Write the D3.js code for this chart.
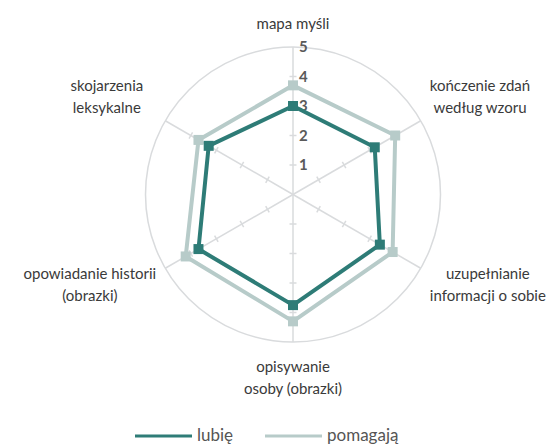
<!DOCTYPE html>
<html>
<head>
<meta charset="utf-8">
<script src="https://cdn.jsdelivr.net/npm/d3@7"></script>
<style>
  body { margin: 0; background: #fff; }
  svg { font-family: Lato, "Open Sans", sans-serif; }
</style>
</head>
<body>
<script>
// chart data
var categories = ["mapa myśli", "kończenie zdań\nwedług wzoru", "uzupełnianie\ninformacji o sobie",
                  "opisywanie\nosoby (obrazki)", "opowiadanie historii\n(obrazki)", "skojarzenia\nleksykalne"];
var lubie = [3.0, 3.2, 3.4, 3.75, 3.7, 3.3];
var pomagaja = [3.7, 4.0, 3.9, 4.3, 4.2, 3.7];
var seriesNames = ["lubię", "pomagają"];
var tickValues = [1, 2, 3, 4, 5];

var width = 550, height = 444;
var cx = 293, cy = 194.5, R = 147.5;
var colors = ["#2e7c77", "#b7cbc9"];
var gridColor = "#d9dbdd";

var svg = d3.select("body").append("svg")
    .attr("width", width).attr("height", height);

var r = d3.scaleLinear().domain([0, 5]).range([0, R]);
var angle = d3.scaleLinear().domain([0, categories.length]).range([0, 2 * Math.PI]);

function pt(i, v) {
  var a = angle(i);
  return [cx + r(v) * Math.sin(a), cy - r(v) * Math.cos(a)];
}

var g = svg.append("g");

// outer circle
g.append("circle")
    .attr("cx", cx).attr("cy", cy).attr("r", r(5))
    .attr("fill", "none").attr("stroke", gridColor).attr("stroke-width", 1.5);

// spokes + small ticks
categories.forEach(function(c, i) {
  var end = pt(i, 5);
  g.append("line")
      .attr("x1", cx).attr("y1", cy).attr("x2", end[0]).attr("y2", end[1])
      .attr("stroke", gridColor).attr("stroke-width", 1.5);
  var a = angle(i);
  var px = -Math.cos(a), py = -Math.sin(a); // perpendicular
  tickValues.slice(0, 4).forEach(function(t) {
    var p = pt(i, t);
    g.append("line")
        .attr("x1", p[0] - px * 3.5).attr("y1", p[1] - py * 3.5)
        .attr("x2", p[0] + px * 3.5).attr("y2", p[1] + py * 3.5)
        .attr("stroke", gridColor).attr("stroke-width", 1.5);
  });
});

// scale labels
g.selectAll(".tick-label")
    .data(tickValues)
    .enter().append("text")
    .attr("class", "tick-label")
    .attr("x", cx + 6)
    .attr("y", function(d) { return cy - r(d); })
    .attr("dy", "0.35em")
    .attr("font-size", 15)
    .attr("font-weight", "bold")
    .attr("fill", "#5a5a5a")
    .text(function(d) { return d; });

// series
var line = d3.line().curve(d3.curveLinearClosed);
[lubie, pomagaja].forEach(function(vals, s) {
  var pts = vals.map(function(v, i) { return pt(i, v); });
  var sg = svg.insert("g", s === 0 ? null : "g.series").attr("class", "series");
  sg.append("path")
      .attr("d", line(pts))
      .attr("fill", "none")
      .attr("stroke", colors[s])
      .attr("stroke-width", 4)
      .attr("stroke-linejoin", "round");
  sg.selectAll("rect")
      .data(pts)
      .enter().append("rect")
      .attr("x", function(d) { return d[0] - 5; })
      .attr("y", function(d) { return d[1] - 5; })
      .attr("width", 10).attr("height", 10)
      .attr("fill", colors[s]);
});

// category labels
var lineH = 22;
categories.forEach(function(c, i) {
  var lines = c.split("\n");
  var a = angle(i);
  var p = pt(i, 5.55);
  var t = svg.append("text")
      .attr("font-size", 15)
      .attr("fill", "#3a3a3a")
      .attr("text-anchor", "middle");
  lines.forEach(function(l, k) {
    t.append("tspan").attr("x", 0).attr("y", k * lineH).text(l);
  });
  var w = d3.max(t.selectAll("tspan").nodes(), function(n) { return n.getComputedTextLength(); });
  var h = lines.length * lineH;
  var s = Math.sin(a), co = Math.cos(a);
  var bx, by; // block centre
  if (Math.abs(s) < 0.01) {
    bx = p[0];
    by = co > 0 ? p[1] - h / 2 + 4 : p[1] + h / 2 - 2;
  } else if (co > 0) {
    bx = s > 0 ? p[0] - 5 + w / 2 : p[0] - 8 - w / 2;
    by = p[1] - 16;
  } else {
    bx = s > 0 ? p[0] - 5 + w / 2 : p[0] + 5 - w / 2;
    by = p[1] + 9;
  }
  t.attr("transform", "translate(" + bx + "," + (by - h / 2 + lineH / 2 + 5) + ")");
});

// legend
var legend = svg.append("g").attr("transform", "translate(0,436)");
var lx = [135, 265];
seriesNames.forEach(function(n, s) {
  legend.append("line")
      .attr("x1", lx[s]).attr("x2", lx[s] + 57)
      .attr("y1", 0).attr("y2", 0)
      .attr("stroke", colors[s]).attr("stroke-width", 3);
  legend.append("text")
      .attr("x", lx[s] + 62).attr("y", 0)
      .attr("dy", "0.3em")
      .attr("font-size", 17)
      .attr("fill", "#555")
      .text(n);
});
</script>
</body>
</html>
